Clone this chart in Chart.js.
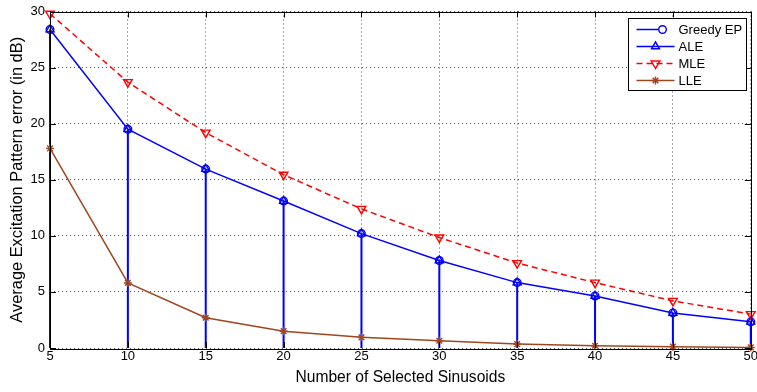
<!DOCTYPE html>
<html>
<head>
<meta charset="utf-8">
<script src="https://cdn.jsdelivr.net/npm/chart.js@4.4.1/dist/chart.umd.min.js"></script>
<style>
  html, body { margin: 0; padding: 0; background: #fff; overflow: hidden; }
  #wrap { width: 759px; height: 392px; }
</style>
</head>
<body>
<div id="wrap"><canvas id="errChart" width="759" height="392"></canvas></div>
<script>
// Number of selected sinusoids
const sinusoids = [5, 10, 15, 20, 25, 30, 35, 40, 45, 50];

// Average excitation pattern error (dB) per method
const greedyEP = [28.4, 19.5, 15.95, 13.1, 10.2, 7.8, 5.83, 4.64, 3.13, 2.33];
const ale      = [28.4, 19.5, 15.95, 13.1, 10.2, 7.8, 5.83, 4.64, 3.13, 2.33];
const mle      = [29.8, 23.7, 19.2, 15.45, 12.4, 9.85, 7.57, 5.83, 4.2, 3.02];
const lle      = [17.8, 5.8, 2.7, 1.5, 0.95, 0.65, 0.35, 0.2, 0.12, 0.05];

const xTicks = [5, 10, 15, 20, 25, 30, 35, 40, 45, 50];
const yTicks = [0, 5, 10, 15, 20, 25, 30];

const BLUE = '#0000ff';
const RED = '#ff0000';
const BROWN = '#a0461e';
const FONT = '"Liberation Sans", Arial, Helvetica, sans-serif';

// stem plot: a vertical segment from 0 up to each value, broken by nulls
const stemData = [];
sinusoids.forEach((x, i) => {
    stemData.push({ x: x, y: 0 });
    stemData.push({ x: x, y: greedyEP[i] });
    stemData.push({ x: x, y: null });
});

const pairs = (ys) => sinusoids.map((x, i) => ({ x: x, y: ys[i] }));

const legendItems = [
    { label: 'Greedy EP', color: BLUE, dash: [], style: 'circle', rotation: 0, radius: 3.8, markerAt: 'end' },
    { label: 'ALE', color: BLUE, dash: [], style: 'triangle', rotation: 0, radius: 4.6, markerAt: 'mid' },
    { label: 'MLE', color: RED, dash: [6, 4], style: 'triangle', rotation: 180, radius: 5, markerAt: 'mid' },
    { label: 'LLE', color: BROWN, dash: [], style: 'star', rotation: 0, radius: 4, markerAt: 'mid' }
];

// box around the plot with inward tick marks on all four sides
const boxPlugin = {
    id: 'matlabBox',
    afterDatasetsDraw(chart) {
        const { ctx, chartArea: a, scales } = chart;
        ctx.save();
        ctx.strokeStyle = '#000';
        ctx.lineWidth = 1;
        ctx.setLineDash([]);
        ctx.strokeRect(Math.round(a.left) + 0.5, Math.round(a.top) + 0.5,
            Math.round(a.right - a.left), Math.round(a.bottom - a.top));
        const len = 6;
        ctx.beginPath();
        xTicks.forEach(v => {
            const px = Math.round(scales.x.getPixelForValue(v)) + 0.5;
            ctx.moveTo(px, a.bottom); ctx.lineTo(px, a.bottom - len);
            ctx.moveTo(px, a.top); ctx.lineTo(px, a.top + len);
        });
        yTicks.forEach(v => {
            const py = Math.round(scales.y.getPixelForValue(v)) + 0.5;
            ctx.moveTo(a.left, py); ctx.lineTo(a.left + len, py);
            ctx.moveTo(a.right, py); ctx.lineTo(a.right - len, py);
        });
        ctx.stroke();
        ctx.restore();
    }
};

// legend box in the upper right corner, line + marker samples
const legendPlugin = {
    id: 'matlabLegend',
    afterDraw(chart) {
        const { ctx, chartArea: a } = chart;
        const w = 118, h = 72;
        const bx = Math.round(a.right - 5 - w) + 0.5;
        const by = Math.round(a.top + 6) + 0.5;
        ctx.save();
        ctx.fillStyle = '#fff';
        ctx.fillRect(bx, by, w, h);
        ctx.strokeStyle = '#000';
        ctx.lineWidth = 1;
        ctx.setLineDash([]);
        ctx.strokeRect(bx, by, w, h);
        ctx.font = '13px ' + FONT;
        ctx.textBaseline = 'middle';
        ctx.textAlign = 'left';
        legendItems.forEach((it, i) => {
            const y = by + 11 + i * 17;
            const x0 = bx + 8, x1 = bx + 46;
            const mx = it.markerAt === 'end' ? x1 - 12 : (x0 + x1) / 2;
            ctx.save();
            ctx.strokeStyle = it.color;
            ctx.lineWidth = 1.5;
            ctx.setLineDash(it.dash);
            ctx.beginPath();
            ctx.moveTo(x0, y);
            ctx.lineTo(it.markerAt === 'end' ? mx - it.radius : x1, y);
            ctx.stroke();
            ctx.restore();
            ctx.save();
            ctx.setLineDash([]);
            ctx.fillStyle = 'rgba(0,0,0,0)';
            ctx.strokeStyle = it.color;
            ctx.lineWidth = 1.4;
            Chart.helpers.drawPoint(ctx, {
                pointStyle: it.style, rotation: it.rotation,
                radius: it.radius, borderWidth: 1.4
            }, mx, y);
            ctx.restore();
            ctx.fillStyle = '#000';
            ctx.fillText(it.label, bx + 50, y + 1);
        });
        ctx.restore();
    }
};

new Chart(document.getElementById('errChart'), {
    type: 'line',
    data: {
        datasets: [
            {
                label: 'Greedy EP',
                data: stemData,
                borderColor: BLUE,
                borderWidth: 2,
                pointStyle: 'circle',
                pointRadius: ctx => (ctx.dataIndex % 3 === 1 ? 3.8 : 0),
                pointBorderColor: BLUE,
                pointBackgroundColor: 'rgba(0,0,0,0)',
                pointBorderWidth: 1.4,
                spanGaps: false,
                order: 4
            },
            {
                label: 'ALE',
                data: pairs(ale),
                borderColor: BLUE,
                borderWidth: 1.5,
                pointStyle: 'triangle',
                pointRadius: 4.6,
                pointBorderColor: BLUE,
                pointBackgroundColor: 'rgba(0,0,0,0)',
                pointBorderWidth: 1.4,
                order: 3
            },
            {
                label: 'MLE',
                data: pairs(mle),
                borderColor: RED,
                borderWidth: 1.5,
                borderDash: [6, 4],
                pointStyle: 'triangle',
                pointRotation: 180,
                pointRadius: 5,
                pointBorderColor: RED,
                pointBackgroundColor: 'rgba(0,0,0,0)',
                pointBorderWidth: 1.4,
                order: 2
            },
            {
                label: 'LLE',
                data: pairs(lle),
                borderColor: BROWN,
                borderWidth: 1.5,
                pointStyle: 'star',
                pointRadius: 4,
                pointBorderColor: BROWN,
                pointBackgroundColor: BROWN,
                pointBorderWidth: 1.4,
                order: 1
            }
        ]
    },
    options: {
        responsive: false,
        animation: false,
        events: [],
        clip: false,
        elements: { line: { tension: 0 } },
        layout: { padding: 0 },
        plugins: {
            legend: { display: false },
            tooltip: { enabled: false }
        },
        scales: {
            x: {
                type: 'linear',
                min: 5,
                max: 50,
                afterBuildTicks: s => { s.ticks = xTicks.map(v => ({ value: v })); },
                afterFit: s => { s.height = 44; },
                ticks: {
                    color: '#000',
                    font: { family: FONT, size: 13 },
                    padding: 1,
                    maxRotation: 0
                },
                grid: { color: '#555', drawTicks: false, lineWidth: 1 },
                border: { display: false, dash: [1, 3] },
                title: {
                    display: true,
                    text: 'Number of Selected Sinusoids',
                    color: '#000',
                    font: { family: FONT, size: 15.6 },
                    padding: { top: 0, bottom: 5 }
                }
            },
            y: {
                min: 0,
                max: 30,
                afterBuildTicks: s => { s.ticks = yTicks.map(v => ({ value: v })); },
                afterFit: s => { s.width = 50; },
                ticks: {
                    color: '#000',
                    font: { family: FONT, size: 13, lineHeight: 1 },
                    padding: 5
                },
                grid: { color: '#555', drawTicks: false, lineWidth: 1 },
                border: { display: false, dash: [1, 3] },
                title: {
                    display: true,
                    text: 'Average Excitation Pattern error (in dB)',
                    color: '#000',
                    font: { family: FONT, size: 16.4 },
                    padding: { top: 8, bottom: 0 }
                }
            }
        }
    },
    plugins: [boxPlugin, legendPlugin]
});
</script>
</body>
</html>
